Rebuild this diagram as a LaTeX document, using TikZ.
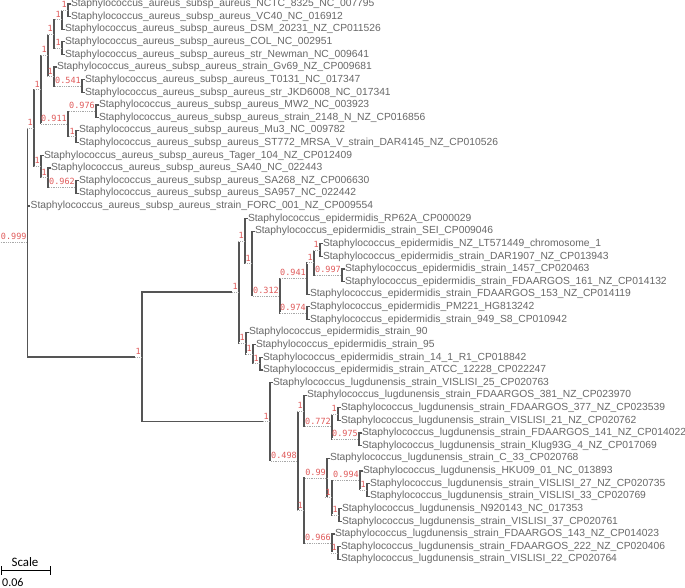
\documentclass[tikz,border=0pt]{standalone}
\usepackage{fontspec}
\setmainfont{Liberation Sans}
\newfontfamily\lblfont{DejaVu Sans Mono}
\newfontfamily\scalefnt{Carlito}
\definecolor{brc}{HTML}{555555}
\definecolor{leafc}{HTML}{686868}
\definecolor{lblc}{HTML}{E05A5A}
\definecolor{dotc}{HTML}{A8A8A8}
\tikzset{
 br/.style={draw=brc, line width=1.2pt},
 leaf/.style={anchor=west, inner sep=0.3pt, text=leafc, font=\fontsize{10.3}{12}\selectfont},
 lbl/.style={anchor=south east, inner sep=0pt, text=lblc, font=\lblfont\fontsize{8.5}{10}\selectfont},
 leaderbg/.style={draw=white, line width=1.8pt},
 leader/.style={draw=dotc, line width=0.6pt, dash pattern=on 0.8pt off 1pt},
}
\newcommand\bootlab[2]{%
 \node[lbl] (#1l) at ([xshift=-1pt,yshift=2.3pt]#1) {#2};
 \draw[leaderbg] (#1l.south west |- #1) -- ([xshift=-0.8pt]#1);
 \draw[leader] (#1l.south west |- #1) -- (#1);}
\begin{document}
\begin{tikzpicture}[x=1pt,y=-1pt]
\fill[white] (0,0) rectangle (685,588);
\useasboundingbox (0,0) rectangle (685,588);
% internal nodes
\coordinate (A) at (68,10.31);
\coordinate (B) at (62,19.775);
\coordinate (D) at (62,48.17);
\coordinate (C) at (54,33.97);
\coordinate (G) at (82,86.03);
\coordinate (F) at (54,76.565);
\coordinate (E) at (48,55.27);
\coordinate (J) at (96,111.27);
\coordinate (K) at (76,136.51);
\coordinate (I) at (68,123.89);
\coordinate (H) at (41,89.58);
\coordinate (O) at (76,186.99);
\coordinate (N) at (48,177.525);
\coordinate (M) at (41,166.48);
\coordinate (L) at (34,128.03);
\coordinate (Y) at (320,250.09);
\coordinate (Z) at (342,275.33);
\coordinate (X) at (314,262.71);
\coordinate (V) at (307,278.485);
\coordinate (W) at (307,313.19);
\coordinate (T) at (280,295.84);
\coordinate (S) at (252,263.5);
\coordinate (Q) at (245,241.02);
\coordinate (AB) at (260,363.67);
\coordinate (AA) at (253,354.205);
\coordinate (R) at (246,343.16);
\coordinate (P) at (239,292.09);
\coordinate (AE) at (338,414.15);
\coordinate (AF) at (359,439.39);
\coordinate (AD) at (332,426.77);
\coordinate (U) at (304,410.995);
\coordinate (AL) at (367,489.87);
\coordinate (AJ) at (360,480.405);
\coordinate (AK) at (339,515.11);
\coordinate (AI) at (332,497.76);
\coordinate (AG) at (327,478.04);
\coordinate (AM) at (338,552.97);
\coordinate (AH) at (332,543.505);
\coordinate (AC) at (304,510.77);
\coordinate (LB) at (298,460.88);
\coordinate (LG) at (270,421.74);
\coordinate (EL) at (142,356.915);
\coordinate (rt) at (27.7,242.47);
% leaves
\node[leaf] (t0) at (70.5,4.00) {Staphylococcus\_aureus\_subsp\_aureus\_NCTC\_8325\_NC\_007795};
\node[leaf] (t1) at (70.5,16.62) {Staphylococcus\_aureus\_subsp\_aureus\_VC40\_NC\_016912};
\node[leaf] (t2) at (64.5,29.24) {Staphylococcus\_aureus\_subsp\_aureus\_DSM\_20231\_NZ\_CP011526};
\node[leaf] (t3) at (64.5,41.86) {Staphylococcus\_aureus\_subsp\_aureus\_COL\_NC\_002951};
\node[leaf] (t4) at (64.5,54.48) {Staphylococcus\_aureus\_subsp\_aureus\_str\_Newman\_NC\_009641};
\node[leaf] (t5) at (56.5,67.10) {Staphylococcus\_aureus\_subsp\_aureus\_strain\_Gv69\_NZ\_CP009681};
\node[leaf] (t6) at (84.5,79.72) {Staphylococcus\_aureus\_subsp\_aureus\_T0131\_NC\_017347};
\node[leaf] (t7) at (84.5,92.34) {Staphylococcus\_aureus\_subsp\_aureus\_str\_JKD6008\_NC\_017341};
\node[leaf] (t8) at (98.5,104.96) {Staphylococcus\_aureus\_subsp\_aureus\_MW2\_NC\_003923};
\node[leaf] (t9) at (98.5,117.58) {Staphylococcus\_aureus\_subsp\_aureus\_strain\_2148\_N\_NZ\_CP016856};
\node[leaf] (t10) at (78.5,130.20) {Staphylococcus\_aureus\_subsp\_aureus\_Mu3\_NC\_009782};
\node[leaf] (t11) at (78.5,142.82) {Staphylococcus\_aureus\_subsp\_aureus\_ST772\_MRSA\_V\_strain\_DAR4145\_NZ\_CP010526};
\node[leaf] (t12) at (43.5,155.44) {Staphylococcus\_aureus\_subsp\_aureus\_Tager\_104\_NZ\_CP012409};
\node[leaf] (t13) at (50.5,168.06) {Staphylococcus\_aureus\_subsp\_aureus\_SA40\_NC\_022443};
\node[leaf] (t14) at (78.5,180.68) {Staphylococcus\_aureus\_subsp\_aureus\_SA268\_NZ\_CP006630};
\node[leaf] (t15) at (78.5,193.30) {Staphylococcus\_aureus\_subsp\_aureus\_SA957\_NC\_022442};
\node[leaf] (t16) at (30.2,205.92) {Staphylococcus\_aureus\_subsp\_aureus\_strain\_FORC\_001\_NZ\_CP009554};
\node[leaf] (t17) at (247.5,218.54) {Staphylococcus\_epidermidis\_RP62A\_CP000029};
\node[leaf] (t18) at (254.5,231.16) {Staphylococcus\_epidermidis\_strain\_SEI\_CP009046};
\node[leaf] (t19) at (322.5,243.78) {Staphylococcus\_epidermidis\_NZ\_LT571449\_chromosome\_1};
\node[leaf] (t20) at (322.5,256.40) {Staphylococcus\_epidermidis\_strain\_DAR1907\_NZ\_CP013943};
\node[leaf] (t21) at (344.5,269.02) {Staphylococcus\_epidermidis\_strain\_1457\_CP020463};
\node[leaf] (t22) at (344.5,281.64) {Staphylococcus\_epidermidis\_strain\_FDAARGOS\_161\_NZ\_CP014132};
\node[leaf] (t23) at (309.5,294.26) {Staphylococcus\_epidermidis\_strain\_FDAARGOS\_153\_NZ\_CP014119};
\node[leaf] (t24) at (309.5,306.88) {Staphylococcus\_epidermidis\_PM221\_HG813242};
\node[leaf] (t25) at (309.5,319.50) {Staphylococcus\_epidermidis\_strain\_949\_S8\_CP010942};
\node[leaf] (t26) at (248.5,332.12) {Staphylococcus\_epidermidis\_strain\_90};
\node[leaf] (t27) at (255.5,344.74) {Staphylococcus\_epidermidis\_strain\_95};
\node[leaf] (t28) at (262.5,357.36) {Staphylococcus\_epidermidis\_strain\_14\_1\_R1\_CP018842};
\node[leaf] (t29) at (262.5,369.98) {Staphylococcus\_epidermidis\_strain\_ATCC\_12228\_CP022247};
\node[leaf] (t30) at (272.5,382.60) {Staphylococcus\_lugdunensis\_strain\_VISLISI\_25\_CP020763};
\node[leaf] (t31) at (306.5,395.22) {Staphylococcus\_lugdunensis\_strain\_FDAARGOS\_381\_NZ\_CP023970};
\node[leaf] (t32) at (340.5,407.84) {Staphylococcus\_lugdunensis\_strain\_FDAARGOS\_377\_NZ\_CP023539};
\node[leaf] (t33) at (340.5,420.46) {Staphylococcus\_lugdunensis\_strain\_VISLISI\_21\_NZ\_CP020762};
\node[leaf] (t34) at (361.5,433.08) {Staphylococcus\_lugdunensis\_strain\_FDAARGOS\_141\_NZ\_CP014022};
\node[leaf] (t35) at (361.5,445.70) {Staphylococcus\_lugdunensis\_strain\_Klug93G\_4\_NZ\_CP017069};
\node[leaf] (t36) at (329.5,458.32) {Staphylococcus\_lugdunensis\_strain\_C\_33\_CP020768};
\node[leaf] (t37) at (362.5,470.94) {Staphylococcus\_lugdunensis\_HKU09\_01\_NC\_013893};
\node[leaf] (t38) at (369.5,483.56) {Staphylococcus\_lugdunensis\_strain\_VISLISI\_27\_NZ\_CP020735};
\node[leaf] (t39) at (369.5,496.18) {Staphylococcus\_lugdunensis\_strain\_VISLISI\_33\_CP020769};
\node[leaf] (t40) at (341.5,508.80) {Staphylococcus\_lugdunensis\_N920143\_NC\_017353};
\node[leaf] (t41) at (341.5,521.42) {Staphylococcus\_lugdunensis\_strain\_VISLISI\_37\_CP020761};
\node[leaf] (t42) at (334.5,534.04) {Staphylococcus\_lugdunensis\_strain\_FDAARGOS\_143\_NZ\_CP014023};
\node[leaf] (t43) at (340.5,546.66) {Staphylococcus\_lugdunensis\_strain\_FDAARGOS\_222\_NZ\_CP020406};
\node[leaf] (t44) at (340.5,559.28) {Staphylococcus\_lugdunensis\_strain\_VISLISI\_22\_CP020764};
% branches
\draw[br] (A) |- (t0.west) (A) |- (t1.west);
\draw[br] (B) |- (A) (B) |- (t2.west);
\draw[br] (D) |- (t3.west) (D) |- (t4.west);
\draw[br] (C) |- (B) (C) |- (D);
\draw[br] (G) |- (t6.west) (G) |- (t7.west);
\draw[br] (F) |- (t5.west) (F) |- (G);
\draw[br] (E) |- (C) (E) |- (F);
\draw[br] (J) |- (t8.west) (J) |- (t9.west);
\draw[br] (K) |- (t10.west) (K) |- (t11.west);
\draw[br] (I) |- (J) (I) |- (K);
\draw[br] (H) |- (E) (H) |- (I);
\draw[br] (O) |- (t14.west) (O) |- (t15.west);
\draw[br] (N) |- (t13.west) (N) |- (O);
\draw[br] (M) |- (t12.west) (M) |- (N);
\draw[br] (L) |- (H) (L) |- (M);
\draw[br] (Y) |- (t19.west) (Y) |- (t20.west);
\draw[br] (Z) |- (t21.west) (Z) |- (t22.west);
\draw[br] (X) |- (Y) (X) |- (Z);
\draw[br] (V) |- (X) (V) |- (t23.west);
\draw[br] (W) |- (t24.west) (W) |- (t25.west);
\draw[br] (T) |- (V) (T) |- (W);
\draw[br] (S) |- (t18.west) (S) |- (T);
\draw[br] (Q) |- (t17.west) (Q) |- (S);
\draw[br] (AB) |- (t28.west) (AB) |- (t29.west);
\draw[br] (AA) |- (t27.west) (AA) |- (AB);
\draw[br] (R) |- (t26.west) (R) |- (AA);
\draw[br] (P) |- (Q) (P) |- (R);
\draw[br] (AE) |- (t32.west) (AE) |- (t33.west);
\draw[br] (AF) |- (t34.west) (AF) |- (t35.west);
\draw[br] (AD) |- (AE) (AD) |- (AF);
\draw[br] (U) |- (t31.west) (U) |- (AD);
\draw[br] (AL) |- (t38.west) (AL) |- (t39.west);
\draw[br] (AJ) |- (t37.west) (AJ) |- (AL);
\draw[br] (AK) |- (t40.west) (AK) |- (t41.west);
\draw[br] (AI) |- (AJ) (AI) |- (AK);
\draw[br] (AG) |- (t36.west) (AG) |- (AI);
\draw[br] (AM) |- (t43.west) (AM) |- (t44.west);
\draw[br] (AH) |- (t42.west) (AH) |- (AM);
\draw[br] (AC) |- (AG) (AC) |- (AH);
\draw[br] (LB) |- (U) (LB) |- (AC);
\draw[br] (LG) |- (t30.west) (LG) |- (LB);
\draw[br] (EL) |- (P) (EL) |- (LG);
\draw[br] (rt) |- (L) (rt) |- (t16.west) (rt) |- (EL);
% support values
\bootlab{A}{1}\bootlab{B}{1}\bootlab{D}{1}\bootlab{C}{1}
\bootlab{G}{0.541}\bootlab{F}{1}\bootlab{E}{1}
\bootlab{J}{0.976}\bootlab{K}{1}\bootlab{I}{0.911}\bootlab{H}{1}
\bootlab{O}{0.962}\bootlab{N}{1}\bootlab{M}{1}\bootlab{L}{1}
\bootlab{rt}{0.999}
\bootlab{Y}{1}\bootlab{Z}{0.997}\bootlab{X}{1}\bootlab{V}{0.941}
\bootlab{W}{0.974}\bootlab{T}{0.312}\bootlab{S}{1}\bootlab{Q}{1}
\bootlab{AB}{1}\bootlab{AA}{1}\bootlab{R}{1}\bootlab{P}{1}
\bootlab{AE}{1}\bootlab{AF}{0.975}\bootlab{AD}{0.772}\bootlab{U}{1}
\bootlab{AL}{1}\bootlab{AJ}{0.994}\bootlab{AK}{1}\bootlab{AI}{1}
\bootlab{AG}{0.99}\bootlab{AM}{1}\bootlab{AH}{0.966}\bootlab{AC}{1}
\bootlab{LB}{0.498}\bootlab{LG}{1}\bootlab{EL}{1}
% scale bar
\coordinate (s1) at (1.5,570.7);
\coordinate (s2) at (50,570.7);
\draw[black, line width=1pt] (s1) -- (s2);
\draw[black, line width=1pt] ([yshift=4.5pt]s1) -- ([yshift=-4.5pt]s1);
\draw[black, line width=1pt] ([yshift=4.5pt]s2) -- ([yshift=-4.5pt]s2);
\node[font=\scalefnt\fontsize{12.9}{14}\selectfont, inner sep=0, anchor=south] (sc) at (25,567) {Scale};
\node[font=\scalefnt\fontsize{12}{14}\selectfont, inner sep=0.5pt, anchor=west] (sv) at (1.5,582.2) {0.06};
\end{tikzpicture}
\end{document}
